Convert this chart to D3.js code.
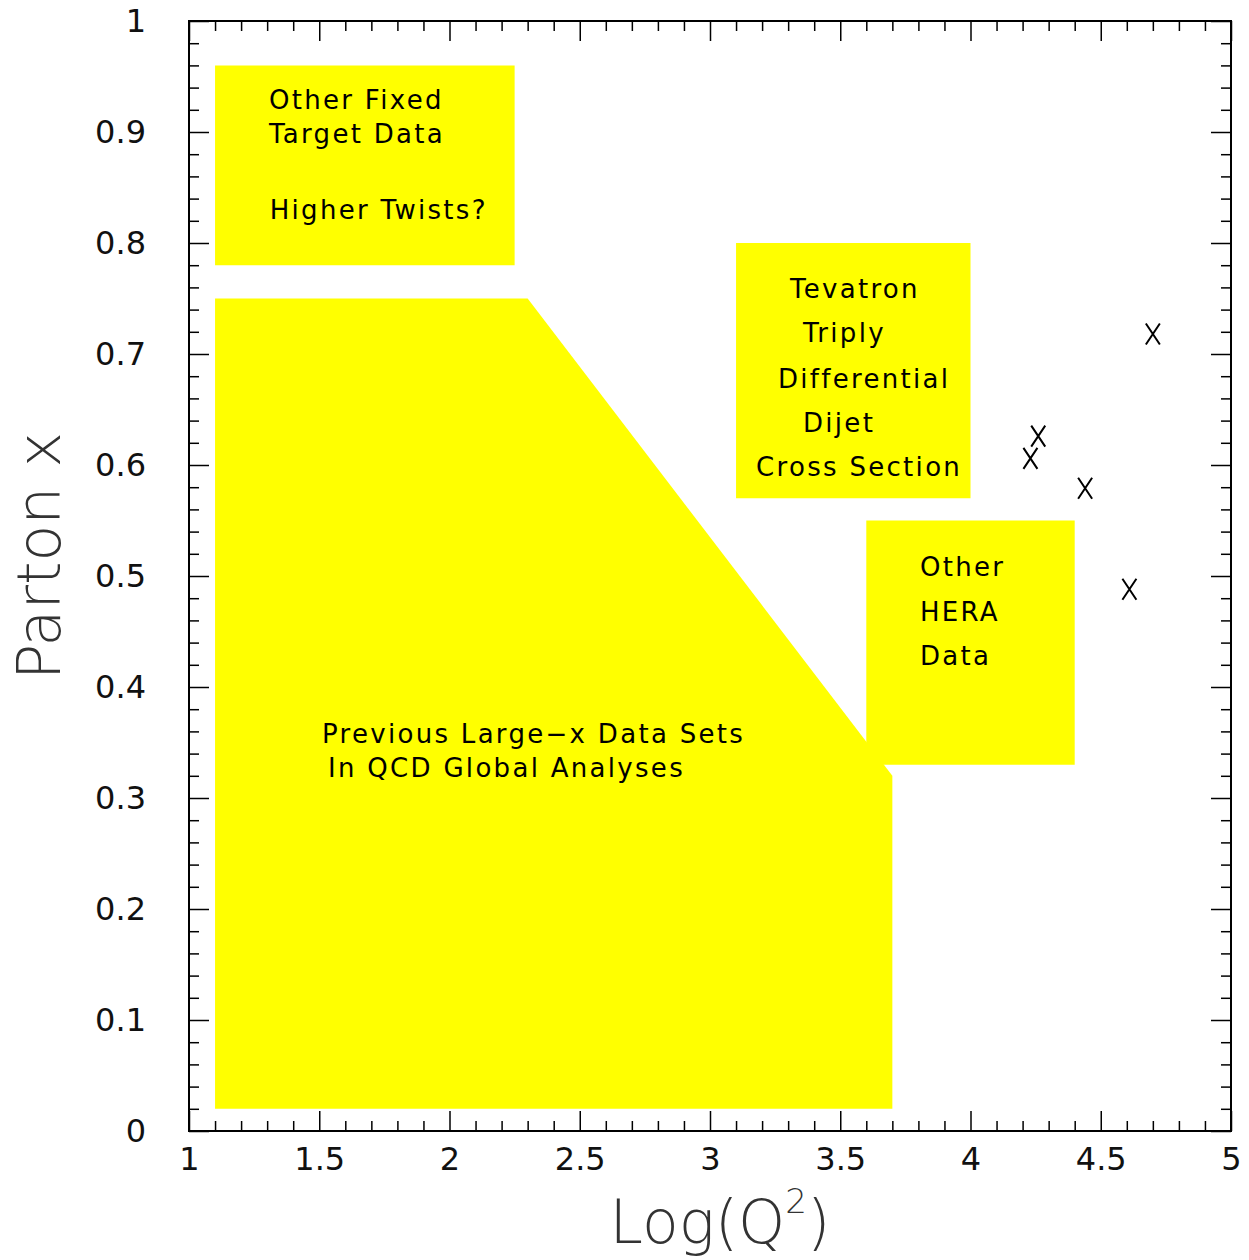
<!DOCTYPE html>
<html>
<head>
<meta charset="utf-8">
<script src="https://cdn.jsdelivr.net/npm/d3@7"></script>
<style>
  html, body { margin: 0; padding: 0; background: #fff; }
  svg { display: block; }
  text { font-family: "DejaVu Sans", sans-serif; }
</style>
</head>
<body>
<svg id="chart" width="1249" height="1260"></svg>
<script>
// ---------- data ----------
const xMajorTicks = [1, 1.5, 2, 2.5, 3, 3.5, 4, 4.5, 5];
const xTickLabels = ["1", "1.5", "2", "2.5", "3", "3.5", "4", "4.5", "5"];
const yMajorTicks = [0, 0.1, 0.2, 0.3, 0.4, 0.5, 0.6, 0.7, 0.8, 0.9, 1];
const yTickLabels = ["0", "0.1", "0.2", "0.3", "0.4", "0.5", "0.6", "0.7", "0.8", "0.9", "1"];

// shaded regions (Log(Q^2), x) vertices
const regionFixedTarget = [[1.1, 0.78], [2.25, 0.78], [2.25, 0.96], [1.1, 0.96]];
const regionPrevious = [[1.1, 0.02], [1.1, 0.75], [2.3, 0.75], [3.7, 0.32], [3.7, 0.02]];
const regionTevatron = [[3.1, 0.57], [4.0, 0.57], [4.0, 0.80], [3.1, 0.80]];
const regionHERA = [[3.6, 0.33], [4.4, 0.33], [4.4, 0.55], [3.6, 0.55]];

// marked points
const pointsLogQ2 = [4.70, 4.26, 4.23, 4.44, 4.61];
const pointsX = [0.718, 0.626, 0.606, 0.579, 0.488];

// annotation text lines: [text, logQ2 (left), x (baseline)]
const labelsFixedTarget = [["Other Fixed", 1.307, 0.9207], ["Target Data", 1.307, 0.890], ["Higher Twists?", 1.31, 0.8216]];
const labelsTevatron = [["Tevatron", 3.307, 0.7505], ["Triply", 3.357, 0.7108], ["Differential", 3.261, 0.6694], ["Dijet", 3.357, 0.6297], ["Cross Section", 3.177, 0.5901]];
const labelsPrevious = [["Previous Large\u2212x Data Sets", 1.5106, 0.3495], ["In QCD Global Analyses", 1.5336, 0.3189]];
const labelsHERA = [["Other", 3.806, 0.500], ["HERA", 3.806, 0.4595], ["Data", 3.806, 0.4198]];

// ---------- layout ----------
const svg = d3.select("#chart");
const plotL = 189, plotR = 1231, plotT = 21, plotB = 1131;
const x = d3.scaleLinear().domain([1, 5]).range([plotL, plotR]);
const y = d3.scaleLinear().domain([0, 1]).range([plotB, plotT]);

const yellow = "#ffff00";
const line = d3.line().x(d => x(d[0])).y(d => y(d[1]));

// regions
[regionPrevious, regionFixedTarget, regionTevatron, regionHERA].forEach(r => {
  svg.append("path").attr("d", line(r) + "Z").attr("fill", yellow).attr("stroke", "none");
});

// annotations
const allLabels = [].concat(labelsFixedTarget, labelsTevatron, labelsPrevious, labelsHERA);
svg.append("g").selectAll("text").data(allLabels).join("text")
  .attr("x", d => x(d[1]))
  .attr("y", d => y(d[2]))
  .attr("font-size", 26)
  .attr("letter-spacing", 2.3)
  .attr("fill", "#000")
  .text(d => d[0]);

// points as X markers
svg.append("g").selectAll("path").data(pointsLogQ2.map((v, i) => [v, pointsX[i]])).join("path")
  .attr("transform", d => `translate(${x(d[0])},${y(d[1])})`)
  .attr("d", "M-7,-10.5L7,10.5M-7,10.5L7,-10.5")
  .attr("stroke", "#000").attr("stroke-width", 2).attr("fill", "none");

// ---------- axes ----------
const xMinor = d3.range(11, 50).map(v => v / 10).filter(v => Math.abs(v * 2 - Math.round(v * 2)) > 1e-6);
const yMinor = d3.range(1, 50).map(v => v / 50).filter(v => Math.abs(v * 10 - Math.round(v * 10)) > 1e-6);

function styleAxis(g) {
  g.select(".domain").remove();
  g.selectAll("line").attr("stroke", "#000").attr("stroke-width", 1.5);
  g.selectAll("text").attr("font-size", 32).attr("fill", "#111").attr("font-family", "DejaVu Sans, sans-serif");
}

// bottom
svg.append("g").attr("transform", `translate(0,${plotB})`)
  .call(d3.axisBottom(x).tickValues(xMajorTicks).tickSize(-20).tickPadding(16)
    .tickFormat((d, i) => xTickLabels[i]))
  .call(styleAxis);
svg.append("g").attr("transform", `translate(0,${plotB})`)
  .call(d3.axisBottom(x).tickValues(xMinor).tickSize(-10).tickFormat(""))
  .call(styleAxis);
// top
svg.append("g").attr("transform", `translate(0,${plotT})`)
  .call(d3.axisTop(x).tickValues(xMajorTicks).tickSize(-20).tickFormat(""))
  .call(styleAxis);
svg.append("g").attr("transform", `translate(0,${plotT})`)
  .call(d3.axisTop(x).tickValues(xMinor).tickSize(-10).tickFormat(""))
  .call(styleAxis);
// left
svg.append("g").attr("transform", `translate(${plotL},0)`)
  .call(d3.axisLeft(y).tickValues(yMajorTicks).tickSize(-20).tickPadding(43)
    .tickFormat((d, i) => yTickLabels[i]))
  .call(styleAxis);
svg.append("g").attr("transform", `translate(${plotL},0)`)
  .call(d3.axisLeft(y).tickValues(yMinor).tickSize(-10).tickFormat(""))
  .call(styleAxis);
// right
svg.append("g").attr("transform", `translate(${plotR},0)`)
  .call(d3.axisRight(y).tickValues(yMajorTicks).tickSize(-20).tickFormat(""))
  .call(styleAxis);
svg.append("g").attr("transform", `translate(${plotR},0)`)
  .call(d3.axisRight(y).tickValues(yMinor).tickSize(-10).tickFormat(""))
  .call(styleAxis);

// frame
svg.append("rect").attr("x", plotL).attr("y", plotT)
  .attr("width", plotR - plotL).attr("height", plotB - plotT)
  .attr("fill", "none").attr("stroke", "#000").attr("stroke-width", 2);

// axis titles
const xt = svg.append("text")
  .attr("x", 720).attr("y", 1243)
  .attr("text-anchor", "middle")
  .attr("font-size", 60).attr("font-weight", 200)
  .attr("fill", "#333");
xt.append("tspan").text("Log(Q");
xt.append("tspan").attr("font-size", 34).attr("dy", -30).text("2");
xt.append("tspan").attr("dy", 30).text(")");

svg.append("text")
  .attr("transform", "translate(60,556) rotate(-90)")
  .attr("text-anchor", "middle")
  .attr("font-size", 60).attr("font-weight", 200)
  .attr("fill", "#333")
  .text("Parton x");
</script>
</body>
</html>
